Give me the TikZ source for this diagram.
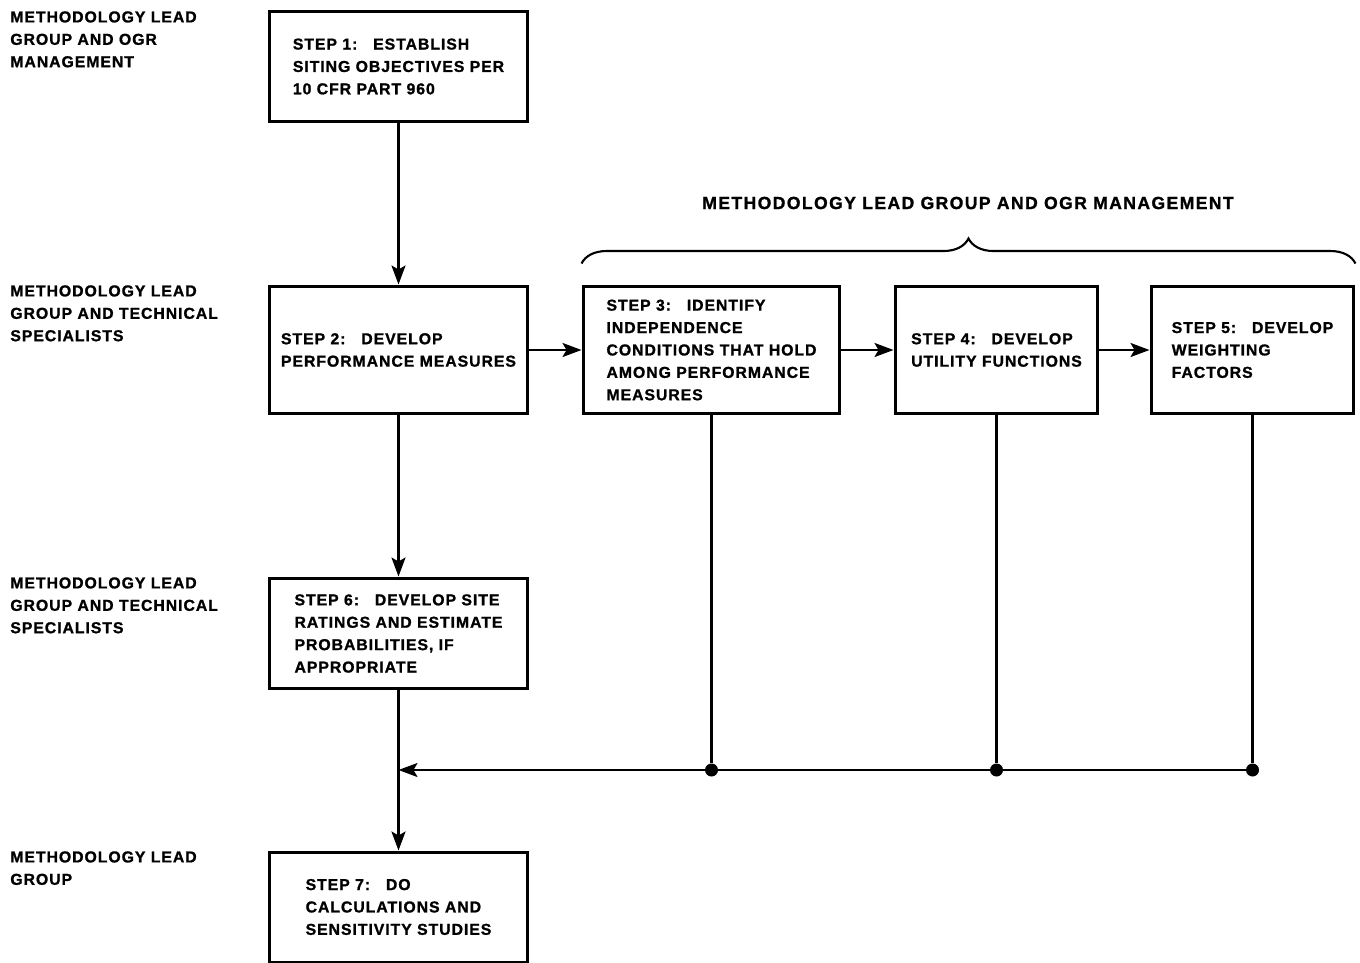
\documentclass[tikz,border=0pt]{standalone}
\usepackage{fontspec}
\setmainfont{Liberation Sans}[LetterSpace=6,BoldFeatures={FakeBold=1.2}]
\newfontfamily\headfont{Liberation Sans}[LetterSpace=8,BoldFeatures={FakeBold=1.2}]
\usetikzlibrary{arrows.meta,calc,decorations.pathreplacing}
\begin{document}
\begin{tikzpicture}[x=0.02cm,y=-0.02cm,
  stepbox/.style={draw=black,line width=1.7pt,align=left,inner sep=0pt,minimum width=5.18cm,font=\bfseries\fontsize{9}{12.75}\selectfont},
  who/.style={anchor=north west,align=left,inner sep=0pt,font=\bfseries\fontsize{9}{12.75}\selectfont},
  dotnode/.style={circle,fill=black,inner sep=0pt,minimum size=0.26cm},
  flow/.style={line width=1.3pt,-{Stealth[length=0.38cm,width=0.28cm,inset=0.08cm]}},
  link/.style={line width=1.3pt}]
\useasboundingbox (0,0) rectangle (1360,963);
% responsible groups
\node[who] (w1) at (10,11) {METHODOLOGY LEAD\\GROUP AND OGR\\MANAGEMENT};
\node[who] (w2) at (10,285) {METHODOLOGY LEAD\\GROUP AND TECHNICAL\\SPECIALISTS};
\node[who] (w3) at (10,577) {METHODOLOGY LEAD\\GROUP AND TECHNICAL\\SPECIALISTS};
\node[who] (w4) at (10,851) {METHODOLOGY LEAD\\GROUP};
% steps
\node[stepbox,minimum height=2.22cm] (s1) at (398.5,66.5) {STEP 1:\quad ESTABLISH\\SITING OBJECTIVES PER\\10 CFR PART 960};
\node[stepbox,minimum height=2.56cm] (s2) at (398.5,350) {STEP 2:\quad DEVELOP\\PERFORMANCE MEASURES};
\node[stepbox,minimum height=2.56cm,minimum width=5.14cm] (s3) at (711.5,350) {STEP 3:\quad IDENTIFY\\INDEPENDENCE\\CONDITIONS THAT HOLD\\AMONG PERFORMANCE\\MEASURES};
\node[stepbox,minimum height=2.56cm,minimum width=4.06cm] (s4) at (996.5,350) {STEP 4:\quad DEVELOP\\UTILITY FUNCTIONS};
\node[stepbox,minimum height=2.56cm,minimum width=4.06cm] (s5) at (1252.5,350) {STEP 5:\quad DEVELOP\\WEIGHTING\\FACTORS};
\node[stepbox,minimum height=2.22cm] (s6) at (398.5,633.5) {STEP 6:\quad DEVELOP SITE\\RATINGS AND ESTIMATE\\PROBABILITIES, IF\\APPROPRIATE};
\node[stepbox,minimum height=2.2cm] (s7) at (398.5,907) {STEP 7:\quad DO\\CALCULATIONS AND\\SENSITIVITY STUDIES};
% group over steps 3 to 5
\node[font=\headfont\bfseries\fontsize{10}{12}\selectfont] (h) at (968,203) {METHODOLOGY LEAD GROUP AND OGR MANAGEMENT};
\draw[line width=1.2pt,decorate,decoration={brace,amplitude=0.5cm}] ($(s3.north west)+(0,-21)$) -- ($(s5.north east)+(0,-21)$);
% junctions
\node[dotnode] (d3) at (s3.south |- 0,770) {};
\node[dotnode] (d4) at (s4.south |- 0,770) {};
\node[dotnode] (d5) at (s5.south |- 0,770) {};
\coordinate (j) at (s6.south |- 0,770);
\draw[flow] (s1) -- (s2);
\draw[flow] (s2) -- (s3);
\draw[flow] (s3) -- (s4);
\draw[flow] (s4) -- (s5);
\draw[flow] (s2) -- (s6);
\draw[flow] (s6) -- (s7);
\draw[link] (s3) -- (d3); \draw[link] (s4) -- (d4); \draw[link] (s5) -- (d5);
\draw[flow] (d5) -- (j);
\end{tikzpicture}
\end{document}
